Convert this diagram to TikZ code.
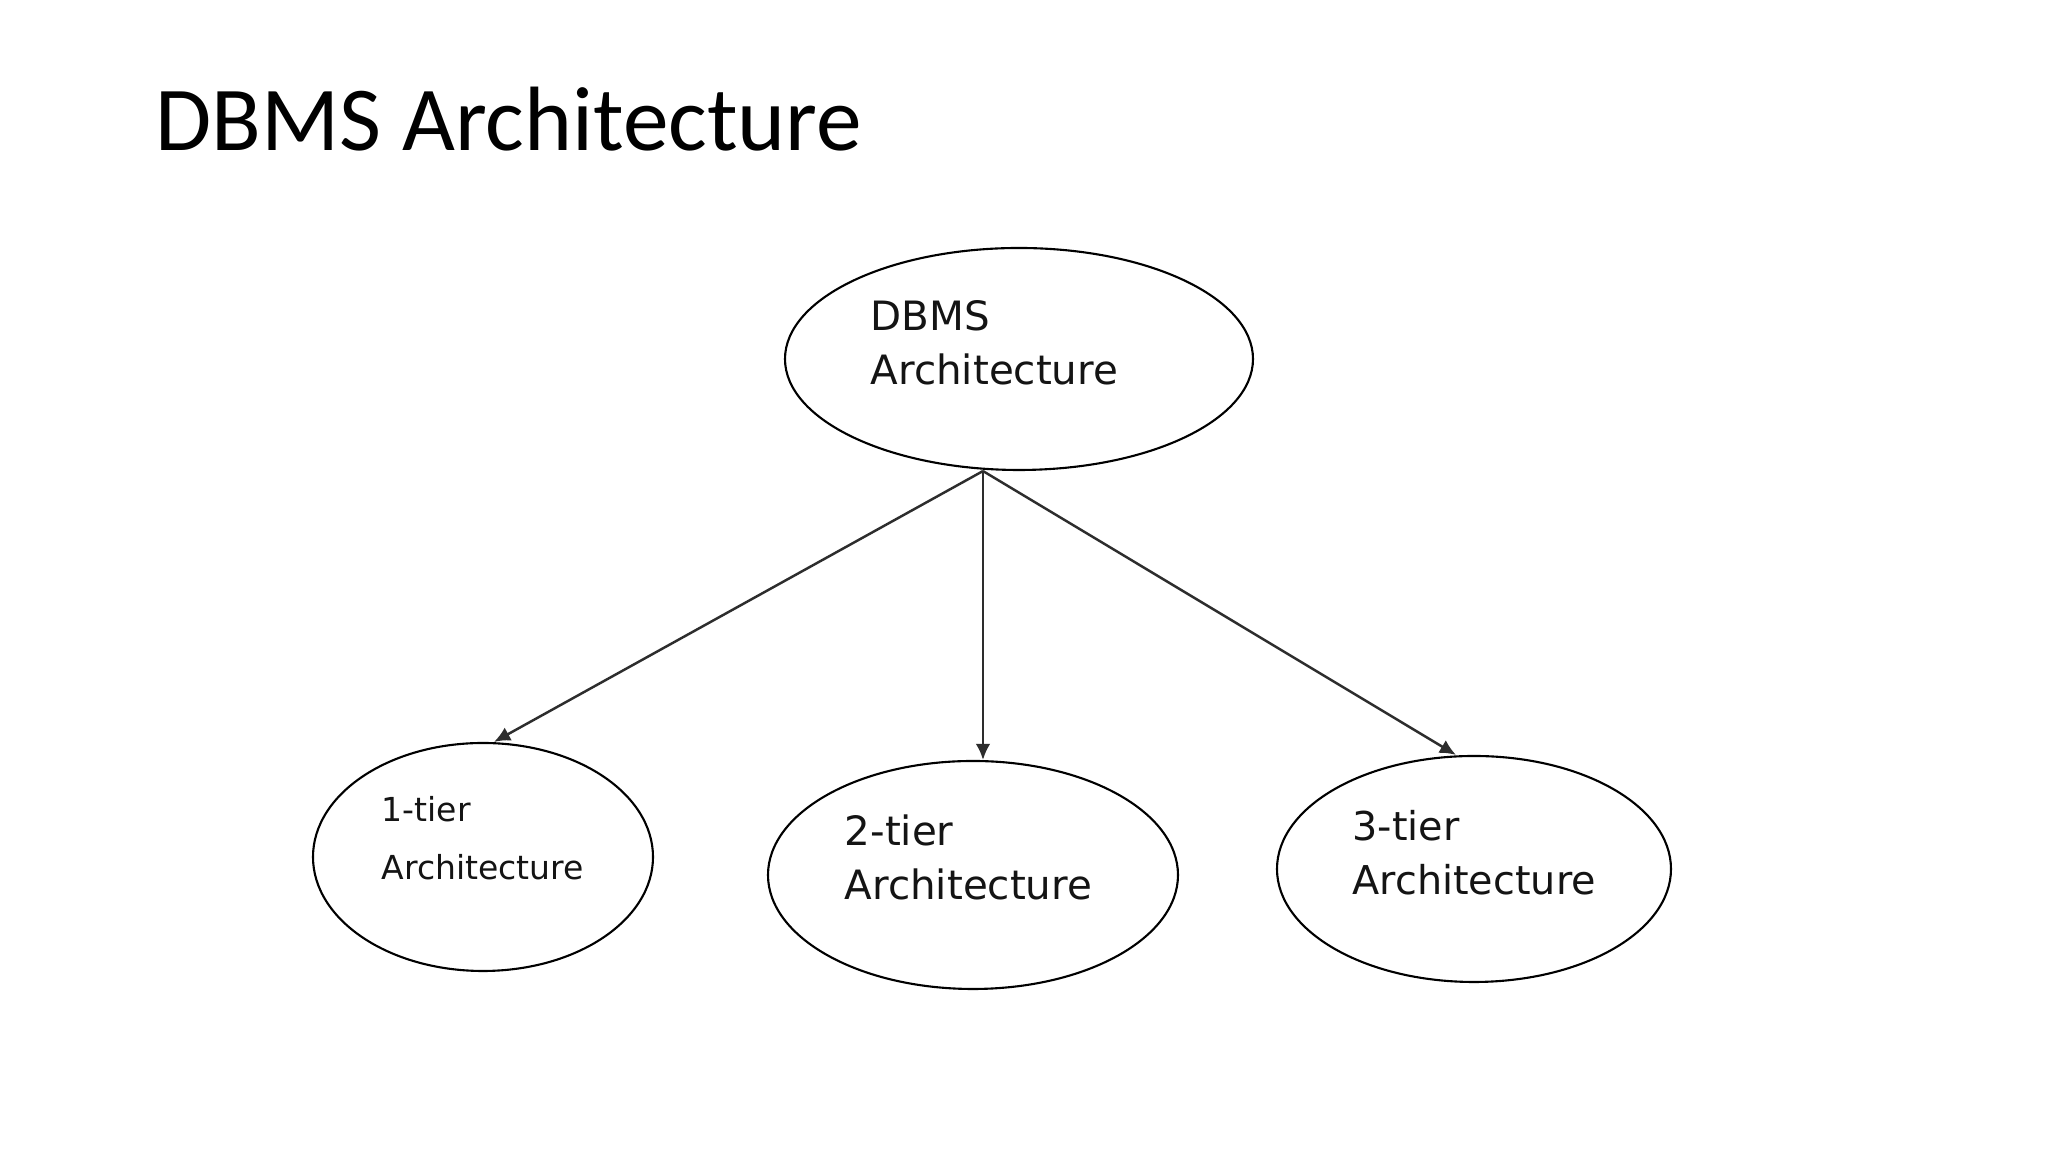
\documentclass[tikz,border=0pt]{standalone}
\usepackage{fontspec}
\setmainfont{Carlito}
\newfontfamily\verd{DejaVu Sans}
\usepackage{tikz}
\usetikzlibrary{arrows.meta, shapes.geometric, positioning}
\definecolor{traco}{RGB}{45,45,45}

\begin{document}
\begin{tikzpicture}[
    oval/.style={ellipse, draw=black, line width=0.6pt, inner sep=0pt},
    rotulo/.style={anchor=base west, inner sep=0pt, align=left, text=black!92, font=\verd\fontsize{11.5}{15.6}\selectfont},
    seta/.style={-{Latex[length=4.6pt, width=4.2pt]}, line width=0.7pt, traco}
  ]
    \useasboundingbox[fill=white] (0,0) rectangle (20.48,11.52);
    \node[anchor=base west, inner sep=0pt, font=\fontsize{26}{31}\selectfont] (titulo) at (1.55,10.01) {DBMS Architecture};

    \node[oval, minimum width=4.68cm, minimum height=2.22cm] (dbms) at (10.19,7.93) {};
    \node[oval, minimum width=3.40cm, minimum height=2.28cm] (tierA) at (4.83,2.95) {};
    \node[oval, minimum width=4.10cm, minimum height=2.28cm] (tierB) at (9.73,2.77) {};
    \node[oval, minimum width=3.94cm, minimum height=2.26cm] (tierC) at (14.74,2.83) {};

    \node[rotulo] (dbmsTxt) at (8.70,7.67) {DBMS\\Architecture};
    \node[rotulo, font=\verd\fontsize{9.4}{16.5}\selectfont] (tierATxt) at (3.81,2.72) {1-tier\\Architecture};
    \node[rotulo] (tierBTxt) at (8.44,2.52) {2-tier\\Architecture};
    \node[rotulo, font=\verd\fontsize{11.3}{15.6}\selectfont] (tierCTxt) at (13.52,2.57) {3-tier\\Architecture};

    \coordinate (hub) at ([xshift=-3.6mm]dbms.south);
    \draw[seta] (hub) -- ([xshift=1.1mm]tierA.north);
    \draw[seta] (hub) -- (hub |- tierB.north);
    \draw[seta] (hub) -- ([xshift=-1.8mm]tierC.north);
  \end{tikzpicture}
\end{document}
